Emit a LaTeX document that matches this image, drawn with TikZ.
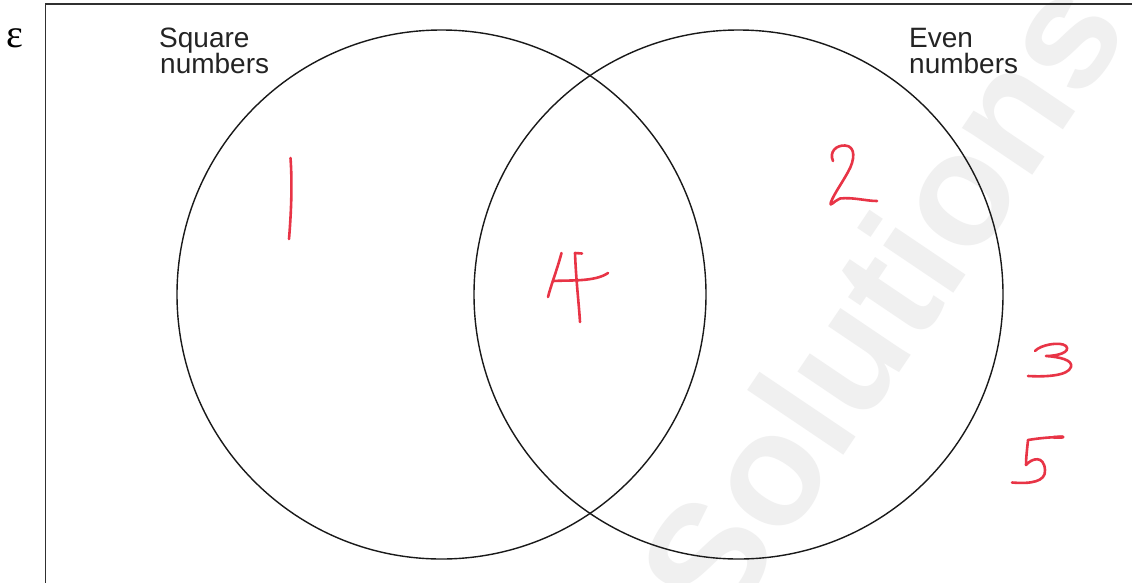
\documentclass[tikz,border=0pt]{standalone}
\usepackage{fontspec}
\setmainfont{Liberation Sans}
\newfontfamily\serifgr{Liberation Serif}
\definecolor{handred}{RGB}{232,52,70}
\definecolor{wmark}{RGB}{240,240,240}
\definecolor{linek}{RGB}{25,25,25}
\begin{document}
\begin{tikzpicture}[x=1pt,y=-1pt,
  setline/.style={draw=linek,line width=1.4pt},
  framebox/.style={draw=linek!90,line width=1.8pt},
  lab/.style={anchor=base west,inner sep=0pt,font=\fontsize{28}{28}\selectfont,text=linek!95},
  hand/.style={draw=handred,line width=2.6pt,line cap=round,line join=round}]
\useasboundingbox (0,0) rectangle (1132,582);
\clip (0,0) rectangle (1132,582);
\fill[white] (0,0) rectangle (1132,582);
% watermark
\node[text=wmark,rotate=56,font=\fontsize{160}{160}\bfseries\selectfont] (wm) at (880,300) {Solutions};
% universal set frame
\draw[framebox] (45.5,4) rectangle (1250,700);
\node[anchor=base west,inner sep=0pt,font=\serifgr\fontsize{40}{40}\selectfont] (eps) at (6,47) {ε};
% sets
\draw[setline] (441.5,294.5) circle (264.5);
\draw[setline] (738.5,294.5) circle (264.5);
% labels
\node[lab] (sq1) at (159,47.5) {Square};
\node[lab] (sq2) at (160,73) {numbers};
\node[lab] (ev1) at (909,47.5) {Even};
\node[lab] (ev2) at (909,73) {numbers};
% handwritten numbers
% 1
\draw[hand] (290.5,158) .. controls (292.5,185) and (291,215) .. (289,239);
% 2
\draw[hand] (833,161) .. controls (829,152) and (836,145) .. (845,145.5)
  .. controls (856,146) and (855,160) .. (848,172)
  .. controls (842,183) and (834,194) .. (831,202)
  .. controls (829,208) and (834,201) .. (840,198.5)
  .. controls (853,197) and (866,201) .. (877,201);
% 4
\draw[hand] (561.5,253) .. controls (557,270) and (551,285) .. (548,297);
\draw[hand] (553,281) .. controls (570,280) and (595,282) .. (608,273);
\draw[hand] (582,253.5) -- (575,253) .. controls (576,280) and (579,305) .. (580,322);
% 3
\draw[hand] (1035,351) .. controls (1040,345) and (1060,341) .. (1066,346)
  .. controls (1071,352) and (1058,356) .. (1046,356)
  .. controls (1060,357) and (1073,360) .. (1071,367)
  .. controls (1068,376) and (1045,377) .. (1028,376);
% 5
\draw[hand] (1028,440) .. controls (1040,438) and (1052,437) .. (1063,437);
\draw[hand,line width=3.4pt] (1054,437.3) -- (1063,437);
\draw[hand] (1028,440) .. controls (1027,450) and (1026,458) .. (1026,465)
  .. controls (1032,458) and (1044,455) .. (1045,470)
  .. controls (1046,482) and (1030,484) .. (1012,482.5);
\end{tikzpicture}
\end{document}
